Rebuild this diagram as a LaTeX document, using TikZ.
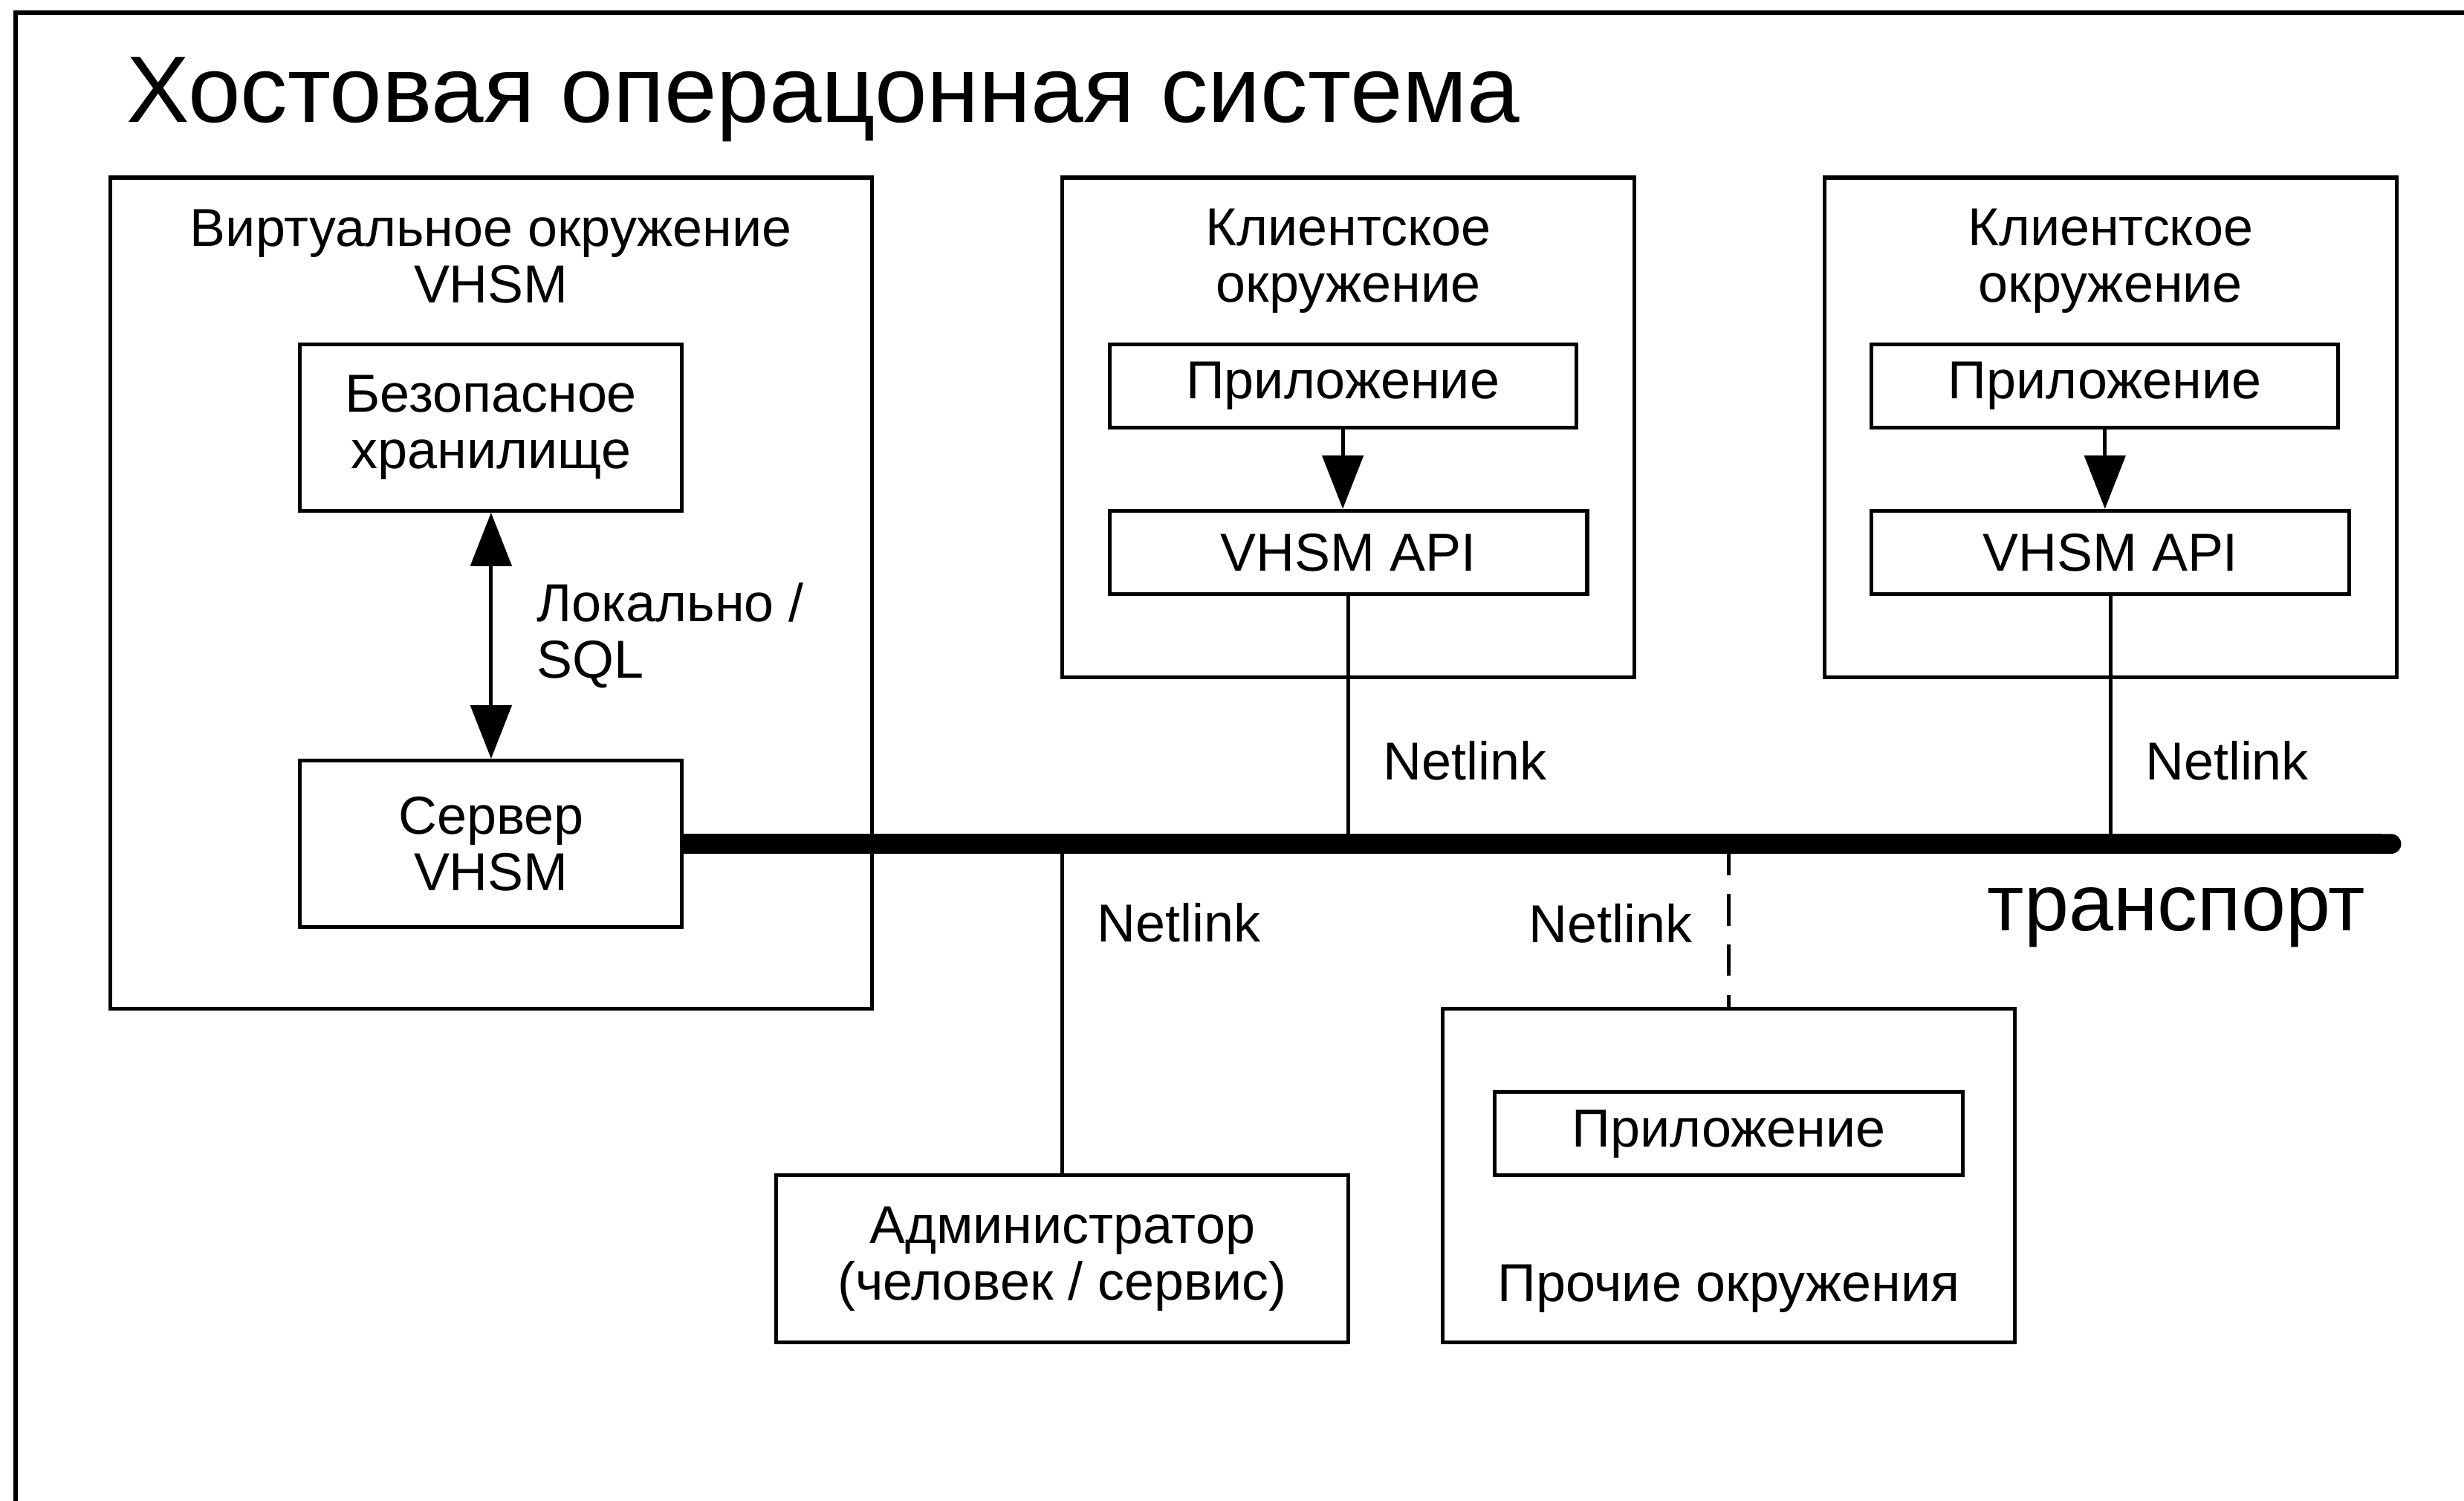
\documentclass[tikz,border=0pt]{standalone}
\usepackage{fontspec}
\setmainfont{Liberation Sans}
\usetikzlibrary{arrows.meta, positioning}

\begin{document}
\begin{tikzpicture}[x=0.5pt, y=-0.5pt,
    txt/.style={font=\fontsize{17}{18}\selectfont, align=center, inner sep=0pt},
    envbox/.style={draw, line width=1.2pt, inner sep=0pt},
    link/.style={line width=1.2pt},
    dashlink/.style={line width=1.2pt, dash pattern=on 10pt off 6pt},
    onearrow/.style={-{Triangle[length=17pt, width=13pt]}},
    twoarrow/.style={{Triangle[length=17pt, width=13pt]}-{Triangle[length=17pt, width=13pt]}}
]
    \useasboundingbox (0,0) rectangle (1568,955);
    \draw[line width=1.3pt] (10,955) |- (1568,8);
    \node[anchor=base west, inner sep=0pt, font=\fontsize{30}{34}\selectfont] (host) at (80,78) {Хостовая операцонная система};

    % виртуальное окружение
    \node[envbox, minimum width=242.5pt, minimum height=264.5pt] (venv) at (312.5,377.5) {};
    \node[txt] (venvlbl) at (312.5,163) {Виртуальное окружение\\VHSM};
    \node[envbox, txt, minimum width=121.5pt, minimum height=53pt] (store) at (312.5,272) {Безопасное\\хранилище};
    \node[envbox, txt, minimum width=121.5pt, minimum height=53pt] (server) at (312.5,537) {Сервер\\VHSM};
    \draw[link, twoarrow] (store) -- node[txt, right=14pt, align=left] {Локально /\\SQL} (server);

    % клиентские окружения
    \node[envbox, minimum width=182pt, minimum height=159pt] (client1) at (858,272) {};
    \node[txt] (client1lbl) at (858,166) {Клиентское\\окружение};
    \node[envbox, txt, minimum width=148.5pt, minimum height=26.5pt] (app1) at (854.5,245.5) {Приложение};
    \node[envbox, txt, minimum width=152pt, minimum height=26.5pt] (api1) at (858,351.5) {VHSM API};

    \node[envbox, minimum width=182pt, minimum height=159pt] (client2) at (1343,272) {};
    \node[txt] (client2lbl) at (1343,166) {Клиентское\\окружение};
    \node[envbox, txt, minimum width=148.5pt, minimum height=26.5pt] (app2) at (1339.5,245.5) {Приложение};
    \node[envbox, txt, minimum width=152pt, minimum height=26.5pt] (api2) at (1343,351.5) {VHSM API};

    \draw[link, onearrow] (app1) -- (app1 |- api1.north);
    \draw[link, onearrow] (app2) -- (app2 |- api2.north);

    % транспорт
    \coordinate (busend) at (1528,537);
    \draw[line width=6.3pt, -{Round Cap[]}] (server.east) -- (busend);
    \node[inner sep=0pt, font=\fontsize{25.5}{28}\selectfont] (transport) at (1385,584) {транспорт};

    \draw[link] (api1) -- node[txt, right=10.5pt, pos=0.665] {Netlink} (api1 |- busend);
    \draw[link] (api2) -- node[txt, right=10.5pt, pos=0.665] {Netlink} (api2 |- busend);

    % администратор и прочие окружения
    \node[envbox, txt, minimum width=182pt, minimum height=53pt] (admin) at (676,801) {Администратор\\(человек / сервис)};
    \draw[link] (admin) -- node[txt, right=10.5pt, pos=0.76] {Netlink} (admin |- busend);

    \node[envbox, minimum width=182pt, minimum height=106pt] (other) at (1100,748) {};
    \node[envbox, txt, minimum width=149pt, minimum height=26.5pt] (app3) at (1100,721.5) {Приложение};
    \node[txt] (otherlbl) at (1100,820) {Прочие окружения};
    \draw[dashlink] (other |- busend) -- node[txt, left=11pt, pos=0.49] {Netlink} (other);
\end{tikzpicture}
\end{document}
